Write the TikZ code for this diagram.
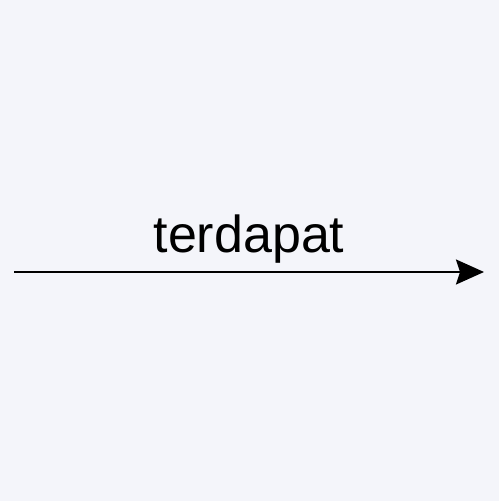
\documentclass[tikz,border=0pt]{standalone}
\usepackage{fontspec}
\setmainfont{Liberation Sans}
\usepackage{xcolor}
\usetikzlibrary{arrows.meta,positioning}
\definecolor{colorFond}{HTML}{F4F5FA}
\def\colorFond{colorFond}

\begin{document}
\begin{tikzpicture}[x=1pt,y=1pt]

  % Fond
  \fill[\colorFond] (0,0) rectangle (499,501);
  \useasboundingbox (0,0) rectangle (499,501);

  % Extrémités de la flèche
  \coordinate (debut) at (14,229);
  \coordinate (fin) at (484,229);

  % Étiquette
  \node[anchor=base, inner sep=0pt, font=\fontsize{52pt}{60pt}\selectfont] (terdapat) at (249,248) {terdapat};

  % Flèche
  \draw[line width=2pt, -{Stealth[length=28pt,width=25pt,inset=4pt]}] (debut) -- (fin);

\end{tikzpicture}
\end{document}
